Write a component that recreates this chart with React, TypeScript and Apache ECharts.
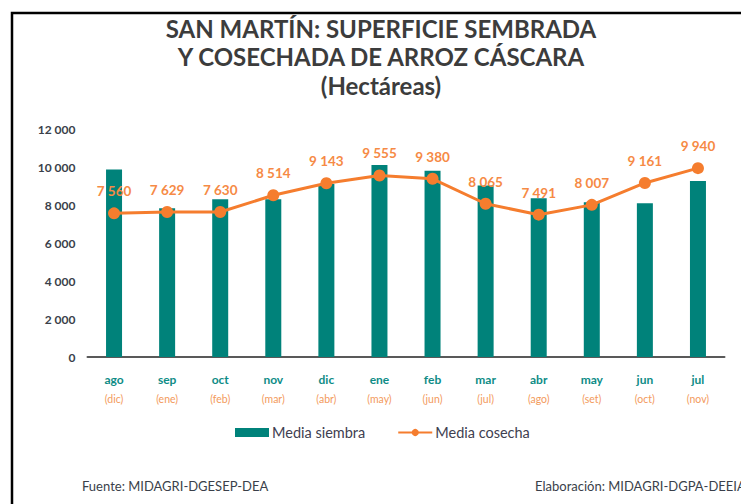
import React, { useEffect, useRef } from "react";
import * as echarts from "echarts";

const months = ["ago", "sep", "oct", "nov", "dic", "ene", "feb", "mar", "abr", "may", "jun", "jul"];
const harvestMonths = ["dic", "ene", "feb", "mar", "abr", "may", "jun", "jul", "ago", "set", "oct", "nov"];
const siembra = [9870, 7830, 8300, 8300, 9100, 10100, 9800, 9020, 8350, 8150, 8090, 9260];
const cosecha = [7560, 7629, 7630, 8514, 9143, 9555, 9380, 8065, 7491, 8007, 9161, 9940];
const yTicks = [0, 2000, 4000, 6000, 8000, 10000, 12000];

const fmt = (v: number) => {
  const s = String(Math.round(v));
  return s.replace(/\B(?=(\d{3})+(?!\d))/g, " ");
};

const FONT = "Lato, 'Noto Sans', sans-serif";

export default function App() {
  const ref = useRef<HTMLDivElement>(null);
  useEffect(() => {
    if (!ref.current) return;
    const chart = echarts.init(ref.current, undefined, { renderer: "svg" });
    chart.setOption({
      animation: false,
      backgroundColor: "#ffffff",
      textStyle: { fontFamily: FONT },
      title: {
        text: "SAN MARTÍN: SUPERFICIE SEMBRADA\nY COSECHADA DE ARROZ CÁSCARA\n(Hectáreas)",
        left: 376,
        top: 9,
        textAlign: "center",
        textStyle: {
          fontFamily: FONT,
          fontSize: 24,
          fontWeight: "bold",
          color: "#3C3C3C",
          lineHeight: 28.5,
        },
      },
      legend: {
        left: 230,
        top: 420,
        itemGap: 32,
        itemWidth: 34,
        itemHeight: 9,
        textStyle: { fontFamily: FONT, fontSize: 14.5, color: "#404050", padding: [0, 0, 0, -2] },
        data: [
          { name: "Media siembra", icon: "rect" },
          { name: "Media cosecha" },
        ],
      },
      grid: { left: 87.5, right: 16.5, top: 129, bottom: 147, containLabel: false },
      xAxis: {
        type: "category",
        data: months,
        axisTick: { show: false },
        axisLine: { lineStyle: { color: "#595959", width: 2 } },
        axisLabel: {
          margin: 13,
          interval: 0,
          formatter: (v: string, i: number) => `{a|${v}}\n{b|(${harvestMonths[i]})}`,
          rich: {
            a: { fontFamily: FONT, fontSize: 12, fontWeight: "bold", color: "#0E8C86", lineHeight: 19 },
            b: { fontFamily: FONT, fontSize: 10.5, color: "#F39A5C", lineHeight: 19 },
          },
        },
      },
      yAxis: {
        type: "value",
        min: 0,
        max: 12000,
        interval: 2000,
        splitLine: { show: false },
        axisLine: { show: false },
        axisTick: { show: false },
        axisLabel: {
          margin: 12,
          fontFamily: FONT,
          fontSize: 12,
          fontWeight: "bold",
          color: "#3A3F4A",
          formatter: (v: number) => (yTicks.includes(v) ? fmt(v) : ""),
        },
      },
      series: [
        {
          name: "Media siembra",
          type: "bar",
          data: siembra,
          barWidth: 16,
          itemStyle: { color: "#00827A" },
        },
        {
          name: "Media cosecha",
          type: "line",
          data: cosecha,
          symbol: "circle",
          symbolSize: 12,
          lineStyle: { color: "#F57D2E", width: 3 },
          itemStyle: { color: "#F57D2E" },
          label: {
            show: true,
            position: "top",
            distance: 9,
            fontFamily: FONT,
            fontSize: 13.5,
            fontWeight: "bold",
            color: "#F68A45",
            formatter: (p: any) => fmt(p.value),
          },
        },
      ],
      graphic: [
        {
          type: "rect",
          shape: { x: 12, y: 13, width: 900, height: 700 },
          style: { fill: "none", stroke: "#000000", lineWidth: 2.5 },
          silent: true,
        },
        {
          type: "text",
          x: 82,
          y: 479,
          style: { text: "Fuente: MIDAGRI-DGESEP-DEA", fontFamily: FONT, fontSize: 13, fill: "#3A3F4A" },
        },
        {
          type: "text",
          x: 535,
          y: 479,
          style: { text: "Elaboración: MIDAGRI-DGPA-DEEIA", fontFamily: FONT, fontSize: 13, fill: "#3A3F4A" },
        },
      ],
    });
    return () => chart.dispose();
  }, []);
  return (
    <div
      ref={ref}
      style={{ position: "fixed", left: 0, top: 0, width: 741, height: 504, overflow: "hidden" }}
    />
  );
}
